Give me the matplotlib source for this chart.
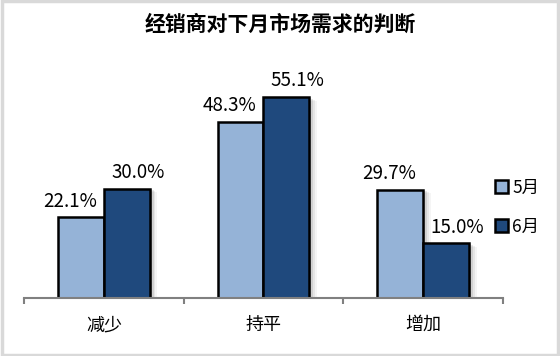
import matplotlib
matplotlib.use("Agg")
import matplotlib.pyplot as plt
from matplotlib.patches import Rectangle
import numpy as np

plt.rcParams['font.family'] = ['Noto Sans CJK SC', 'DejaVu Sans']

# data
categories = ["减少", "持平", "增加"]
series_names = ["5月", "6月"]
may_values = [22.1, 48.3, 29.7]
june_values = [30.0, 55.1, 15.0]
colors = ["#95B3D7", "#1F497D"]

fig = plt.figure(figsize=(5.6, 3.56), dpi=100)
ax = fig.add_axes([24 / 560, 58 / 356, 479 / 560, 219 / 356])

x = np.arange(len(categories))
w = 0.2875
label_shift = [-0.07, 0.07]

for i, vals in enumerate([may_values, june_values]):
    offs = (i - 0.5) * w
    # soft shadow behind the bars
    for k, a in enumerate([0.12, 0.09, 0.06, 0.04]):
        dx = 0.012 * (k + 1)
        for xi, v in zip(x, vals):
            ax.add_patch(Rectangle((xi + offs - w / 2 + dx, 0), w, v - 0.25 * (k + 1),
                                   facecolor="black", alpha=a, edgecolor="none", zorder=1))
    ax.bar(x + offs, vals, width=w, color=colors[i], edgecolor="black",
           linewidth=1.8, label=series_names[i], zorder=3)
    for xi, v in zip(x, vals):
        ax.text(xi + offs + label_shift[i], v + 1.5, f"{v:.1f}%", ha="center", va="bottom",
                fontsize=13.5, zorder=4)

ax.set_xlim(-0.5, 2.5)
ax.set_ylim(0, 60)
ax.set_yticks([])
for s in ["left", "right", "top"]:
    ax.spines[s].set_visible(False)
ax.spines["bottom"].set_color("#808080")
ax.spines["bottom"].set_linewidth(1.5)
ax.spines["bottom"].set_zorder(5)

ax.set_xticks([-0.5, 0.5, 1.5, 2.5], minor=False)
ax.set_xticklabels([])
ax.tick_params(axis="x", which="major", length=4, width=1.5, color="#808080", direction="out")
ax.set_xticks(x, minor=True)
ax.set_xticklabels(categories, minor=True, fontsize=13)
ax.tick_params(axis="x", which="minor", length=0, pad=13)

fig.suptitle("经销商对下月市场需求的判断", x=0.5, y=0.96, fontsize=15, fontweight="bold")

leg = ax.legend(loc="center left", bbox_to_anchor=(0.95, 0.415), frameon=False,
                fontsize=12.5, handlelength=0.75, handleheight=0.75, handletextpad=0.25,
                labelspacing=1.2)
for h in leg.legend_handles:
    h.set_linewidth(1.8)

# outer border
fig.patches.append(Rectangle((0.003, 0.004), 0.994, 0.992, transform=fig.transFigure,
                             fill=False, edgecolor="#D9D9D9", linewidth=2.5))

fig.savefig("out.png", dpi=100)
